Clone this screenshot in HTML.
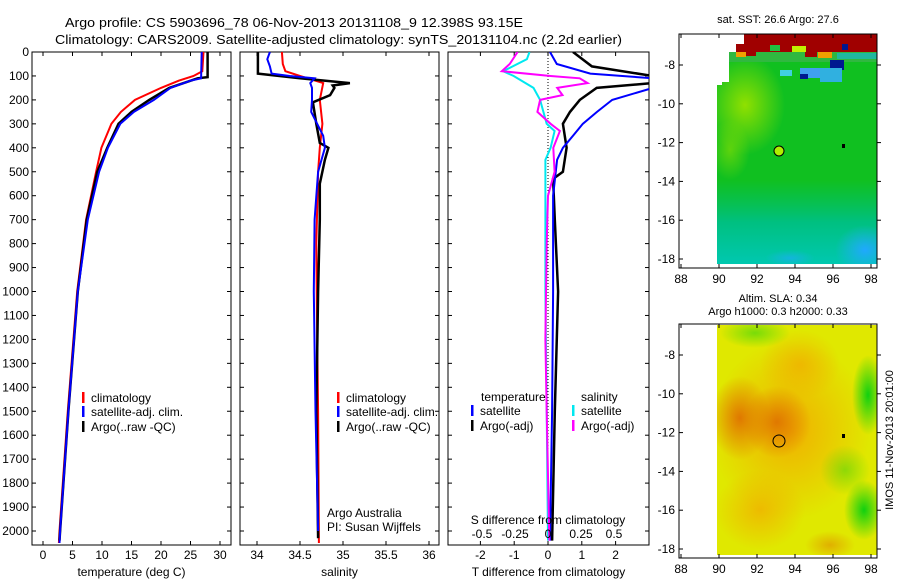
<!DOCTYPE html>
<html><head><meta charset="utf-8"><style>
body{margin:0;background:#fff;}
svg{display:block;font-family:"Liberation Sans",sans-serif;}
text{font-size:12px;fill:#000;}
</style></head><body>
<svg id="fig" width="900" height="580" viewBox="0 0 900 580" xmlns="http://www.w3.org/2000/svg">
<rect width="900" height="580" fill="#fff"/>
<text x="65" y="27" textLength="458" lengthAdjust="spacingAndGlyphs" style="font-size:13px">Argo profile: CS 5903696_78 06-Nov-2013 20131108_9 12.398S 93.15E</text>
<text x="55" y="44" textLength="567" lengthAdjust="spacingAndGlyphs" style="font-size:13px">Climatology: CARS2009. Satellite-adjusted climatology: synTS_20131104.nc (2.2d earlier)</text>

<g id="p1"></g>
<g id="p2"></g>
<g id="p3"></g>

<defs>
<clipPath id="cm1"><polygon points="744,34 877,34 877,264 717,264 717,85 722,85 722,82 729,82 729,52 736,52 736,44 744,44"/></clipPath>
<clipPath id="cm2"><rect x="717" y="325" width="160" height="230"/></clipPath>
<radialGradient id="yg" cx="0.5" cy="0.5" r="0.5"><stop offset="0" stop-color="#90e000"/><stop offset="1" stop-color="#90e000" stop-opacity="0"/></radialGradient>
<linearGradient id="cy" x1="0" y1="0" x2="0" y2="1"><stop offset="0" stop-color="#00c070" stop-opacity="0"/><stop offset="0.5" stop-color="#00c080"/><stop offset="1" stop-color="#00c8b0"/></linearGradient>
<radialGradient id="bl" cx="0.5" cy="0.5" r="0.5"><stop offset="0" stop-color="#20a8ff"/><stop offset="1" stop-color="#20b0f0" stop-opacity="0"/></radialGradient>
<radialGradient id="o1" cx="0.5" cy="0.5" r="0.5"><stop offset="0" stop-color="#e07800"/><stop offset="1" stop-color="#e07800" stop-opacity="0"/></radialGradient>
<radialGradient id="o2" cx="0.5" cy="0.5" r="0.5"><stop offset="0" stop-color="#f0b000"/><stop offset="1" stop-color="#f0b000" stop-opacity="0"/></radialGradient>
<radialGradient id="gr1" cx="0.5" cy="0.5" r="0.5"><stop offset="0" stop-color="#10d010"/><stop offset="1" stop-color="#10d010" stop-opacity="0"/></radialGradient>
</defs>

<!-- Map 1 : SST -->
<g>
<text x="778" y="23" text-anchor="middle" style="font-size:11px">sat. SST: 26.6 Argo: 27.6</text>
<g clip-path="url(#cm1)">
<rect x="717" y="34" width="160" height="230" fill="#10c020"/>
<ellipse cx="745" cy="105" rx="40" ry="50" fill="url(#yg)"/>
<ellipse cx="730" cy="150" rx="20" ry="30" fill="url(#yg)" opacity="0.6"/>
<rect x="717" y="180" width="160" height="84" fill="url(#cy)"/>
<ellipse cx="865" cy="250" rx="30" ry="25" fill="url(#bl)"/>
<ellipse cx="790" cy="258" rx="25" ry="8" fill="url(#bl)" opacity="0.6"/>
<rect x="717" y="52" width="160" height="10" fill="#30b840"/>
<rect x="717" y="34" width="160" height="18" fill="#a00000"/>
<rect x="736" y="52" width="10" height="5" fill="#f0a000"/>
<rect x="746" y="52" width="10" height="4" fill="#a00000"/>
<rect x="770" y="45" width="10" height="6" fill="#20c040"/>
<rect x="792" y="46" width="14" height="6" fill="#c0f000"/>
<rect x="805" y="52" width="12" height="5" fill="#a00000"/>
<rect x="818" y="52" width="14" height="6" fill="#f0a000"/>
<rect x="837" y="53" width="40" height="6" fill="#20b8a0"/>
<rect x="830" y="60" width="14" height="10" fill="#001890"/>
<rect x="800" y="68" width="20" height="10" fill="#40a0f0"/>
<rect x="820" y="68" width="22" height="14" fill="#30b0e0"/>
<rect x="780" y="70" width="12" height="6" fill="#40d0e0"/>
<rect x="800" y="74" width="8" height="5" fill="#001890"/>
<rect x="842" y="44" width="6" height="6" fill="#001890"/>
</g>
<circle cx="779" cy="151" r="5" fill="#b0f000" stroke="#000" stroke-width="1"/>
<rect x="842" y="144" width="3" height="4" fill="#000"/>
<g id="m1ax"></g>
</g>

<!-- Map 2 : SLA -->
<g>
<text x="778" y="302" text-anchor="middle" style="font-size:11px">Altim. SLA: 0.34</text>
<text x="778" y="315" text-anchor="middle" style="font-size:11px">Argo h1000: 0.3 h2000: 0.33</text>
<g clip-path="url(#cm2)">
<rect x="717" y="325" width="160" height="230" fill="#e0e800"/>
<ellipse cx="790" cy="430" rx="80" ry="90" fill="url(#o2)"/>
<ellipse cx="760" cy="510" rx="45" ry="40" fill="url(#o2)" opacity="0.8"/>
<ellipse cx="800" cy="365" rx="40" ry="35" fill="url(#o2)" opacity="0.8"/>
<ellipse cx="740" cy="418" rx="30" ry="42" fill="url(#o1)"/>
<ellipse cx="777" cy="422" rx="34" ry="36" fill="url(#o1)"/>
<ellipse cx="830" cy="545" rx="25" ry="14" fill="url(#o1)" opacity="0.5"/>
<ellipse cx="755" cy="333" rx="35" ry="15" fill="url(#gr1)" opacity="0.5"/>
<ellipse cx="868" cy="395" rx="16" ry="40" fill="url(#gr1)"/>
<ellipse cx="864" cy="510" rx="20" ry="30" fill="url(#gr1)"/>
<ellipse cx="845" cy="470" rx="25" ry="25" fill="url(#gr1)" opacity="0.4"/>
</g>
<circle cx="779" cy="441" r="6" fill="none" stroke="#000" stroke-width="1"/>
<rect x="842" y="434" width="3" height="4" fill="#000"/>
<g id="m2ax"></g>
</g>
<text transform="translate(893,440) rotate(-90)" text-anchor="middle" style="font-size:11px">IMOS 11-Nov-2013 20:01:00</text>
</svg>
<script>
// ---------- DATA ----------
const depthTicks = [0,100,200,300,400,500,600,700,800,900,1000,1100,1200,1300,1400,1500,1600,1700,1800,1900,2000];
const tempTicks = [0,5,10,15,20,25,30];
const salTicks = [34,34.5,35,35.5,36];
const tdiffTicks = [-2,-1,0,1,2];
const sdiffTicks = [-0.5,-0.25,0,0.25,0.5];
const sdiffTickLabels = ['-0.5','-0.25','0','0.25','0.5'];

const climTDepth = [0,80,100,120,150,200,250,300,400,500,700,1000,1500,2000,2050];
const climTVal   = [27.2,27,25.5,23,20,15.6,13.2,11.6,9.9,9,7.3,5.8,4.2,2.8,2.7];
const satTDepth  = [0,110,120,150,200,250,300,400,500,700,1000,1500,2000,2050];
const satTVal    = [26.9,26.8,25,21.6,18.8,15.4,13.1,11,9.5,7.6,5.9,4.3,2.9,2.8];
const argoTDepth = [0,105,110,150,200,250,300,400,500,700,1000,1500,2000,2040];
const argoTVal   = [27.9,27.9,26.2,21.4,18,15,12.8,10.9,9.2,7.4,5.9,4.3,2.9,2.8];

const climSDepth = [0,50,80,100,130,200,300,400,500,800,1200,1500,2050];
const climSVal   = [34.29,34.3,34.33,34.5,34.77,34.73,34.76,34.73,34.71,34.69,34.7,34.71,34.72];
const satSDepth  = [0,30,60,90,100,110,130,150,200,250,350,400,500,700,1000,1500,2000];
const satSVal    = [34.15,34.12,34.15,34.17,34.38,34.67,34.62,34.64,34.64,34.63,34.77,34.79,34.71,34.67,34.66,34.68,34.71];
const argoSDepth = [0,90,110,130,140,150,180,210,300,380,400,450,550,700,1000,1500,2030];
const argoSVal   = [34.01,34.01,34.5,35.08,34.88,34.9,34.85,34.65,34.69,34.73,34.83,34.79,34.73,34.73,34.71,34.69,34.71];

const satDTDepth  = [0,50,90,110,150,200,250,300,350,400,450,600,1000,1500,2040];
const satDTVal    = [0.06,0.26,1.25,3.1,3.1,1.9,1.45,1.03,0.74,0.44,0.27,0.15,0.15,0.12,0.06];
const argoDTDepth = [0,60,100,130,150,200,250,300,400,500,530,700,1000,1500,2040];
const argoDTVal   = [0.74,1.3,3.1,3.1,1.44,0.94,0.65,0.44,0.55,0.44,0.15,0.2,0.3,0.2,0.12];
const satDSDepth  = [0,30,80,100,150,200,300,330,400,450,600,1000,1500,2040];
const satDSVal    = [-0.14,-0.16,-0.34,-0.26,-0.11,-0.06,-0.01,0.05,0.02,-0.02,-0.02,-0.02,-0.01,0];
const argoDSDepth = [0,50,80,100,110,130,150,180,200,250,300,330,400,500,600,800,1200,1500,2040];
const argoDSVal   = [-0.23,-0.29,-0.35,0.02,0.24,0.3,0.07,0.11,-0.06,-0.08,0.02,0.09,0.04,0.05,0,-0.01,-0.02,-0.01,0.01];

const lonTicks = [88,90,92,94,96,98];
const latTicks = [-8,-10,-12,-14,-16,-18];
const latLabels = ['-8','-10','-12','-14','-16','-18'];

// ---------- HELPERS ----------
const NS='http://www.w3.org/2000/svg';
function mk(tag, parent){const e=document.createElementNS(NS,tag);parent.appendChild(e);return e;}
const TOP=52, BOT=545;
const yD = d => TOP + d*0.2395;

function panel(g, x0, x1, xs, ticks, labels, xlabel, name){
  const r=mk('rect',g);
  r.setAttribute('x',x0);r.setAttribute('y',TOP);r.setAttribute('width',x1-x0);r.setAttribute('height',BOT-TOP);
  r.setAttribute('fill','none');r.setAttribute('stroke','#000');r.setAttribute('stroke-width','1');
  
  
  ticks.forEach((t,i)=>{
    const x=xs(t);
    [[TOP,TOP+4],[BOT,BOT-4]].forEach(([a,b])=>{
      const l=mk('line',g);l.setAttribute('x1',x);l.setAttribute('x2',x);l.setAttribute('y1',a);l.setAttribute('y2',b);l.setAttribute('stroke','#000');
    });
    const tx=mk('text',g);tx.setAttribute('x',x);tx.setAttribute('y',BOT+14);tx.setAttribute('text-anchor','middle');
    tx.textContent=labels?labels[i]:t;
    
    
  });
  depthTicks.forEach(d=>{
    const y=yD(d);
    [[x0,x0+4],[x1,x1-4]].forEach(([a,b])=>{
      const l=mk('line',g);l.setAttribute('x1',a);l.setAttribute('x2',b);l.setAttribute('y1',y);l.setAttribute('y2',y);l.setAttribute('stroke','#000');
    });
  });
  if(xlabel){
    const t=mk('text',g);t.setAttribute('x',(x0+x1)/2);t.setAttribute('y',BOT+31);t.setAttribute('text-anchor','middle');t.textContent=xlabel;
    
    
  }
}
function line(g, depths, vals, xs, color, w, name){
  const p=mk('path',g);
  let d='';
  depths.forEach((dp,i)=>{d+=(i?'L':'M')+xs(vals[i]).toFixed(1)+','+yD(dp).toFixed(1);});
  p.setAttribute('d',d);p.setAttribute('fill','none');p.setAttribute('stroke',color);p.setAttribute('stroke-width',w);
  
  
}
function legend(g, x, y, color, label, name){
  const r=mk('rect',g);r.setAttribute('x',x);r.setAttribute('y',y-10);r.setAttribute('width',2.5);r.setAttribute('height',11);r.setAttribute('fill',color);
  const t=mk('text',g);t.setAttribute('x',x+9);t.setAttribute('y',y);t.textContent=label;
  
  
}
function txt(g,x,y,s,name,anchor){
  const t=mk('text',g);t.setAttribute('x',x);t.setAttribute('y',y);t.textContent=s;if(anchor)t.setAttribute('text-anchor',anchor);
  
  
}

// ---------- PANEL 1 ----------
const p1=document.getElementById('p1');
const xT = v => 43 + v*5.9;
const clip=(g,x0,x1,id)=>{const c=mk('clipPath',g);c.setAttribute('id',id);const r=mk('rect',c);r.setAttribute('x',x0);r.setAttribute('y',TOP);r.setAttribute('width',x1-x0);r.setAttribute('height',BOT-TOP);};
panel(p1,32,231,xT,tempTicks,null,'temperature (deg C)','temperature-panel');
depthTicks.forEach(d=>{txt(p1,29,yD(d)+4,String(d),'depth-tick-label','end');});
const c1=mk('g',p1);
line(c1,climTDepth,climTVal,xT,'#ff0000',2,'climatology-temperature-line');
line(c1,argoTDepth,argoTVal,xT,'#000000',2.5,'argo-temperature-line');
line(c1,satTDepth,satTVal,xT,'#0000ff',2,'satellite-temperature-line');
legend(p1,82,402,'#ff0000','climatology','legend-climatology');
legend(p1,82,416,'#0000ff','satellite-adj. clim.','legend-satellite-adj');
legend(p1,82,431,'#000000','Argo(..raw -QC)','legend-argo');

// ---------- PANEL 2 ----------
const p2=document.getElementById('p2');
const xS = v => 257 + (v-34)*86;
panel(p2,240,439,xS,salTicks,null,'salinity','salinity-panel');
line(p2,climSDepth,climSVal,xS,'#ff0000',2,'climatology-salinity-line');
line(p2,argoSDepth,argoSVal,xS,'#000000',2.5,'argo-salinity-line');
line(p2,satSDepth,satSVal,xS,'#0000ff',2,'satellite-salinity-line');
legend(p2,337,402,'#ff0000','climatology','legend-climatology-s');
legend(p2,337,416,'#0000ff','satellite-adj. clim.','legend-satellite-adj-s');
legend(p2,337,431,'#000000','Argo(..raw -QC)','legend-argo-s');
txt(p2,327,517,'Argo Australia','credit-argo-australia');
txt(p2,327,531,'PI: Susan Wijffels','credit-pi');

// ---------- PANEL 3 ----------
const p3=document.getElementById('p3');
const xDT = v => 548 + v*33.8;
const xDS = v => 548 + v*132;
clip(p3,448,649,'cp3');
panel(p3,448,649,xDT,tdiffTicks,null,'T difference from climatology','difference-panel');
const c3=mk('g',p3);c3.setAttribute('clip-path','url(#cp3)');
const z=mk('line',c3);z.setAttribute('x1',548);z.setAttribute('x2',548);z.setAttribute('y1',TOP);z.setAttribute('y2',BOT);z.setAttribute('stroke','#000');z.setAttribute('stroke-dasharray','1,2');
line(c3,argoDTDepth,argoDTVal,xDT,'#000000',2.5,'argo-temperature-difference-line');
line(c3,satDTDepth,satDTVal,xDT,'#0000ff',2,'satellite-temperature-difference-line');
line(c3,satDSDepth,satDSVal,xDS,'#00e8f0',2,'satellite-salinity-difference-line');
line(c3,argoDSDepth,argoDSVal,xDS,'#ff00ff',2,'argo-salinity-difference-line');
txt(p3,481,401,'temperature','legend-temperature-heading');
txt(p3,581,401,'salinity','legend-salinity-heading');
legend(p3,471,415,'#0000ff','satellite','legend-t-satellite');
legend(p3,471,430,'#000000','Argo(-adj)','legend-t-argo');
legend(p3,572,415,'#00e8f0','satellite','legend-s-satellite');
legend(p3,572,430,'#ff00ff','Argo(-adj)','legend-s-argo');
txt(p3,548,524,'S difference from climatology','s-difference-axis-title','middle');
sdiffTicks.forEach((v,i)=>{txt(p3,xDS(v),538,sdiffTickLabels[i],'s-difference-tick-label','middle');});

// ---------- MAP AXES ----------
function mapAxes(id, y0, y1, latTop){
  const g=document.getElementById(id);
  const x0=679,x1=877;
  const r=mk('rect',g);r.setAttribute('x',x0);r.setAttribute('y',y0);r.setAttribute('width',x1-x0);r.setAttribute('height',y1-y0);r.setAttribute('fill','none');r.setAttribute('stroke','#000');
  
  
  const xL = v => 681 + (v-88)*19;
  const yL = v => latTop + (-8 - v)*19.4;
  lonTicks.forEach(v=>{
    const x=xL(v);
    [[y0,y0+4],[y1,y1-4]].forEach(([a,b])=>{const l=mk('line',g);l.setAttribute('x1',x);l.setAttribute('x2',x);l.setAttribute('y1',a);l.setAttribute('y2',b);l.setAttribute('stroke','#000');});
    txt(g,x,y1+15,String(v),'map-lon-tick-label','middle');
  });
  latTicks.forEach((v,i)=>{
    const y=yL(v);
    [[x0,x0+4],[x1,x1+4]].forEach(([a,b])=>{const l=mk('line',g);l.setAttribute('x1',a);l.setAttribute('x2',b);l.setAttribute('y1',y);l.setAttribute('y2',y);l.setAttribute('stroke','#000');});
    txt(g,675,y+4,latLabels[i],'map-lat-tick-label','end');
  });
}
mapAxes('m1ax',34,268,65);
mapAxes('m2ax',324,558,355);
</script>
</body></html>
